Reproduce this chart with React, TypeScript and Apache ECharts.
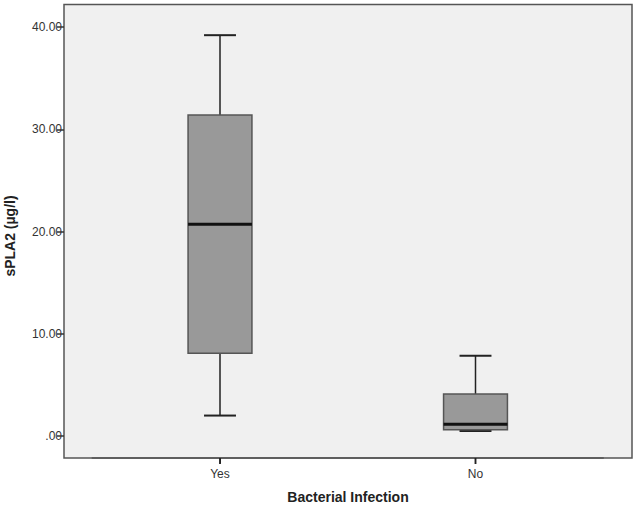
import React, { useEffect, useRef } from "react";
import * as echarts from "echarts";

const categories = ["Yes", "No"];
// [min, Q1, median, Q3, max]
const yesBox = [2.0, 8.1, 20.7, 31.4, 39.2];
const noBox = [0.5, 0.62, 1.15, 4.1, 7.85];
const yTicks = [0, 10, 20, 30, 40];
const yMin = -2.15;
const yMax = 42.2;

export default function App() {
  const ref = useRef<HTMLDivElement>(null);
  useEffect(() => {
    const chart = echarts.init(ref.current!, null, { renderer: "svg" });
    const font = "Liberation Sans, Arial, sans-serif";
    const boxes = [yesBox, noBox];
    const data = boxes.map((b, i) => [i, ...b]);
    chart.setOption({
      animation: false,
      textStyle: { fontFamily: font },
      grid: [
        {
          left: 64, right: 4, top: 4.5, bottom: 49, outerBoundsMode: "none", containLabel: false,
          show: true, backgroundColor: "#f0f0f0", borderColor: "#555", borderWidth: 1.5,
        },
        { left: 92.25, right: 32.75, top: 4.5, bottom: 49, outerBoundsMode: "none", containLabel: false },
      ],
      graphic: [
        {
          id: "ytitle",
          type: "text",
          x: 10,
          y: 236,
          rotation: Math.PI / 2,
          style: {
            text: "sPLA2 (µg/l)",
            fontSize: 14,
            fontWeight: "bold",
            fontFamily: font,
            fill: "#222",
            align: "center",
            verticalAlign: "middle",
          },
        },
        {
          id: "xtitle",
          type: "text",
          x: 348,
          y: 497,
          style: {
            text: "Bacterial Infection",
            fontSize: 14,
            fontWeight: "bold",
            fontFamily: font,
            fill: "#222",
            align: "center",
            verticalAlign: "middle",
          },
        },
      ],
      xAxis: [
        { type: "value", gridIndex: 0, show: false, min: 0, max: 1 },
        {
          type: "category", gridIndex: 1, data: categories,
          axisLine: { show: true, onZero: false, lineStyle: { color: "#555", width: 1.5 } },
          axisTick: { show: true, alignWithLabel: true, interval: 0, length: 5, lineStyle: { color: "#333", width: 1 } },
          axisLabel: { color: "#333", fontSize: 12, margin: 10, fontFamily: font },
          splitLine: { show: false },
        },
      ],
      yAxis: [
        {
          type: "value", gridIndex: 0, min: yMin, max: yMax,
          axisLine: { show: false },
          axisTick: { show: true, length: 7, customValues: yTicks, lineStyle: { color: "#333", width: 1.5 } },
          axisLabel: {
            color: "#333", fontSize: 12, margin: 2, fontFamily: font, customValues: yTicks,
            formatter: (v: number) => (v === 0 ? ".00" : v.toFixed(2)),
          },
          splitLine: { show: false },
        },
        { type: "value", gridIndex: 1, min: yMin, max: yMax, show: false },
      ],
      series: [
        {
          type: "custom",
          xAxisIndex: 1,
          yAxisIndex: 1,
          data,
          clip: false,
          renderItem: (params: any, api: any) => {
            const x = api.value(0);
            const mn = api.coord([x, api.value(1)]);
            const q1 = api.coord([x, api.value(2)]);
            const md = api.coord([x, api.value(3)]);
            const q3 = api.coord([x, api.value(4)]);
            const mx = api.coord([x, api.value(5)]);
            const base = api.coord([x, yMin]);
            const band = api.size([1, 0])[0];
            const bw = band * 0.25;
            const cw = bw / 2;
            const cx = mn[0];
            const whisk = { stroke: "#222", lineWidth: 1.5 };
            return {
              type: "group",
              children: [
                { type: "rect", shape: { x: cx - 0.75, y: base[1], width: 1.5, height: 6 }, style: { fill: "#222" } },
                { type: "line", shape: { x1: cx, y1: q3[1], x2: cx, y2: mx[1] }, style: whisk },
                { type: "line", shape: { x1: cx, y1: q1[1], x2: cx, y2: mn[1] }, style: whisk },
                { type: "line", shape: { x1: cx - cw / 2, y1: mx[1], x2: cx + cw / 2, y2: mx[1] }, style: { stroke: "#222", lineWidth: 2 } },
                { type: "line", shape: { x1: cx - cw / 2, y1: mn[1], x2: cx + cw / 2, y2: mn[1] }, style: { stroke: "#222", lineWidth: 2 } },
                {
                  type: "rect",
                  shape: { x: cx - bw / 2, y: q3[1], width: bw, height: q1[1] - q3[1] },
                  style: { fill: "#999999", stroke: "#555", lineWidth: 1.5 },
                },
                { type: "line", shape: { x1: cx - bw / 2, y1: md[1], x2: cx + bw / 2, y2: md[1] }, style: { stroke: "#111", lineWidth: 3 } },
              ],
            };
          },
        },
      ],
    });
    try {
      const ticks = categories.map((c, i) => {
        const p = chart.convertToPixel({ gridIndex: 1 }, [i, yMin]) as number[];
        return {
          id: "xtick" + i,
          type: "rect",
          z: 100,
          shape: { x: p[0] - 0.75, y: p[1], width: 1.5, height: 6 },
          style: { fill: "#222" },
        };
      });
      if (ticks.every((t) => isFinite(t.shape.x) && isFinite(t.shape.y))) {
        chart.setOption({ graphic: ticks });
      }
    } catch (e) {
      // ignore
    }
    return () => chart.dispose();
  }, []);
  return <div ref={ref} style={{ width: 636, height: 507, position: "absolute", left: 0, top: 0 }} />;
}
